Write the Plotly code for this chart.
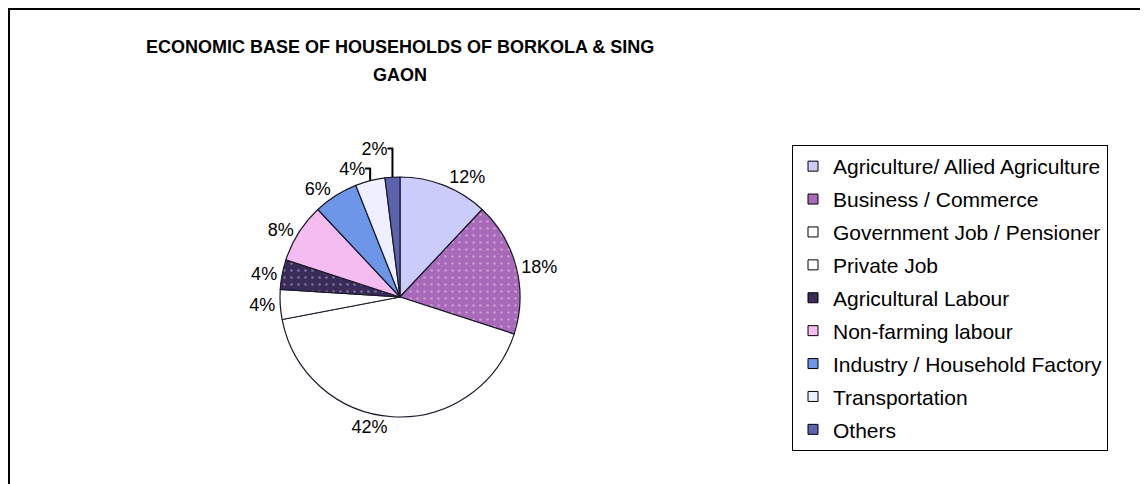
import plotly.graph_objects as go

# data
categories = ["Agriculture/ Allied Agriculture", "Business / Commerce",
              "Government Job / Pensioner", "Private Job", "Agricultural Labour",
              "Non-farming labour", "Industry / Household Factory",
              "Transportation", "Others"]
shares = [12, 18, 42, 4, 4, 8, 6, 4, 2]

slice_colors = ["#ccccfa", "#a86ab8", "#ffffff", "#ffffff", "#3a2c58",
                "#f4bcf0", "#6e96e8", "#eef0ff", "#5b62ae"]
pattern_shapes = ["", ".", "", "", ".", "", "", "", ""]
pattern_fg = ["#ccccfa", "#c89ad2", "#ffffff", "#ffffff", "#7a6e98",
              "#f4bcf0", "#6e96e8", "#eef0ff", "#5b62ae"]

W, H = 1148, 484
OFF = 8  # page body margin, figure sits 8px in from the window corner
cx, cy, r = 400 - OFF, 297 - OFF, 120

fig = go.Figure()

fig.add_trace(go.Pie(
    labels=categories,
    values=shares,
    sort=False,
    direction="clockwise",
    rotation=0,
    marker=dict(colors=slice_colors,
                line=dict(color="#1a1a2a", width=1.2),
                pattern=dict(shape=pattern_shapes, fgcolor=pattern_fg,
                             bgcolor=slice_colors, size=7, solidity=0.12)),
    textinfo="percent",
    textposition="outside",
    textfont=dict(family="Liberation Sans, Arial", size=18, color="#000000"),
    domain=dict(x=[(cx - r) / W, (cx + r) / W], y=[1 - (cy + r) / H, 1 - (cy - r) / H]),
    showlegend=False,
    hoverinfo="label+percent",
))

# legend entries (one group each so the rows can be spaced like the original)
for name, col in zip(categories, slice_colors):
    fig.add_trace(go.Scatter(
        x=[None], y=[None], mode="markers", name=name, legendgroup=name,
        marker=dict(symbol="square", size=10, color=col,
                    line=dict(color="#000000", width=1)),
    ))

fig.update_layout(
    width=W, height=H,
    margin=dict(l=0, r=0, t=0, b=0),
    paper_bgcolor="#ffffff",
    plot_bgcolor="#ffffff",
    font=dict(family="Liberation Sans, Arial", color="#000000"),
    xaxis=dict(visible=False),
    yaxis=dict(visible=False),
    legend=dict(
        x=(792 - OFF) / W, y=1 - (145 - OFF) / H, xanchor="left", yanchor="top",
        bgcolor="#ffffff", bordercolor="#000000", borderwidth=1,
        font=dict(size=21, color="#000000"),
        tracegroupgap=2.6, itemwidth=30,
    ),
    annotations=[
        dict(text="<b>ECONOMIC BASE OF HOUSEHOLDS OF BORKOLA & SING</b>",
             x=cx / W, y=1 - (47 - OFF) / H, xref="paper", yref="paper",
             xanchor="center", yanchor="middle", showarrow=False,
             font=dict(size=18)),
        dict(text="<b>GAON</b>",
             x=cx / W, y=1 - (75 - OFF) / H, xref="paper", yref="paper",
             xanchor="center", yanchor="middle", showarrow=False,
             font=dict(size=18)),
    ],
    shapes=[
        dict(type="rect", xref="paper", yref="paper",
             x0=1 / W, y0=-0.02, x1=1.01, y1=1 - 1 / H,
             line=dict(color="#000000", width=2), fillcolor="rgba(0,0,0,0)"),
    ],
)

fig.write_html("out.html")
